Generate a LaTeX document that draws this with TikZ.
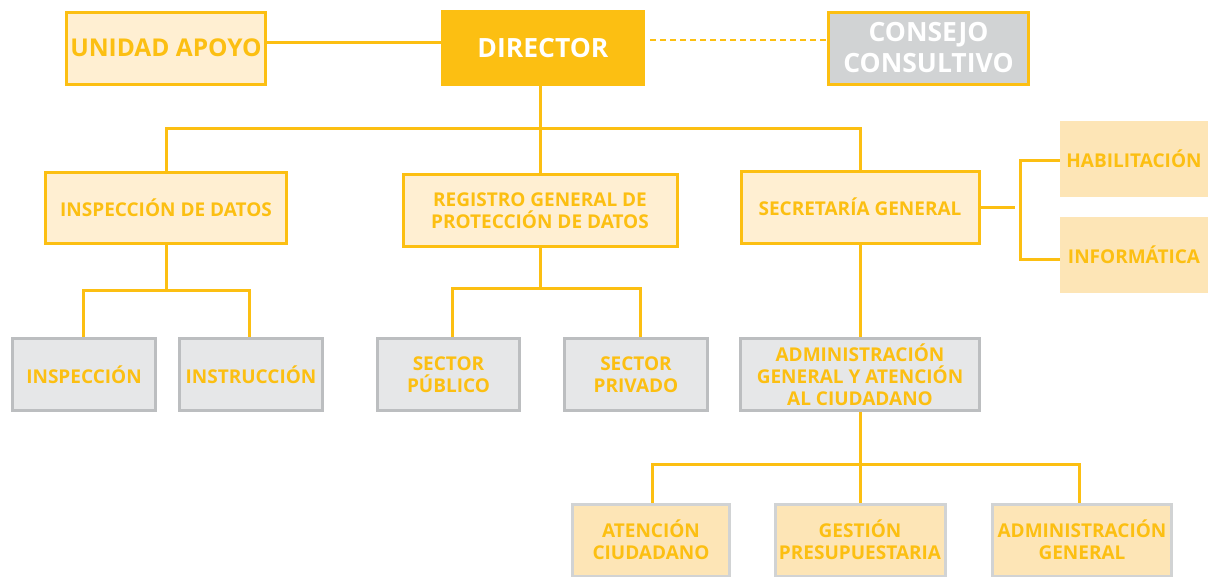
\documentclass[tikz,border=0pt]{standalone}
\usepackage{fontspec}
\setmainfont{Open Sans}[BoldFont={Open Sans Bold}]
\definecolor{yel}{HTML}{FCBF12}
\definecolor{cream}{HTML}{FFEFD2}
\definecolor{peach}{HTML}{FDE5B6}
\definecolor{lgray}{HTML}{E6E7E8}
\definecolor{mgray}{HTML}{BCBEC0}
\definecolor{cgray}{HTML}{D1D3D4}
\tikzset{
  box/.style={rectangle, inner sep=0pt, align=center, font=\bfseries\fontsize{19}{22}\selectfont, text=yel},
  bigtext/.style={font=\bfseries\fontsize{26.5}{31}\selectfont},
  creambox/.style={box, fill=cream, draw=yel, line width=3pt},
  graybox/.style={box, fill=lgray, draw=mgray, line width=3pt},
  peachbox/.style={box, fill=peach},
  peachgbox/.style={box, fill=peach, draw=cgray, line width=3pt},
  conn/.style={draw=yel, line width=3pt},
}
\begin{document}
\begin{tikzpicture}[x=1pt,y=-1pt]
\useasboundingbox (0,0) rectangle (1208,576);
% top row
\node[creambox, bigtext, font=\bfseries\fontsize{24.5}{31}\selectfont, minimum width=199pt, minimum height=72pt] (unidad) at (166,48) {UNIDAD APOYO};
\node[box, bigtext, fill=yel, minimum width=204pt, minimum height=76pt, text=white] (director) at (543,48) {DIRECTOR};
\node[box, bigtext, fill=cgray, draw=yel, line width=3pt, minimum width=200pt, minimum height=72pt, text=white] (consejo) at (928.5,48) {CONSEJO\\CONSULTIVO};
% second row
\node[creambox, minimum width=241pt, minimum height=71pt] (inspd) at (166,208) {INSPECCIÓN DE DATOS};
\node[creambox, minimum width=274pt, minimum height=72pt] (reg) at (540,210.5) {REGISTRO GENERAL DE\\PROTECCIÓN DE DATOS};
\node[creambox, minimum width=238pt, minimum height=72pt] (secr) at (860,207) {SECRETARÍA GENERAL};
\node[peachbox, minimum width=148pt, minimum height=76pt] (habil) at (1134,159) {HABILITACIÓN};
\node[peachbox, minimum width=148pt, minimum height=76pt] (inform) at (1134,255) {INFORMÁTICA};
% third row
\node[graybox, minimum width=143pt, minimum height=72pt] (insp) at (84,374.5) {INSPECCIÓN};
\node[graybox, minimum width=143pt, minimum height=72pt] (instr) at (251,374.5) {INSTRUCCIÓN};
\node[graybox, minimum width=142pt, minimum height=72pt] (pub) at (448.5,374.5) {SECTOR\\PÚBLICO};
\node[graybox, minimum width=143pt, minimum height=72pt] (priv) at (636,374.5) {SECTOR\\PRIVADO};
\node[graybox, minimum width=239pt, minimum height=72pt] (admin) at (860,374.5) {ADMINISTRACIÓN\\GENERAL Y ATENCIÓN\\AL CIUDADANO};
% bottom row
\node[peachgbox, minimum width=157pt, minimum height=72pt] (aten) at (651,540) {ATENCIÓN\\CIUDADANO};
\node[peachgbox, minimum width=170pt, minimum height=72pt] (gest) at (860,540) {GESTIÓN\\PRESUPUESTARIA};
\node[peachgbox, minimum width=179pt, minimum height=72pt] (admg) at (1082,540) {ADMINISTRACIÓN\\GENERAL};
% connectors
\draw[conn] ([yshift=6pt]unidad.east) -- ([yshift=6pt]director.west);
\draw[conn, line width=2.5pt, dash pattern=on 6pt off 4pt] ([yshift=8pt,xshift=5pt]director.east) -- ([yshift=8pt]consejo.west);
\coordinate (b1) at (540,128);
\draw[conn] ([xshift=-3pt]director.south) -- (b1);
\draw[conn] (inspd.north) |- (b1) -| (secr.north);
\draw[conn] (b1) -- (reg.north);
\coordinate (b2) at (166,290);
\draw[conn] (inspd.south) -- (b2);
\draw[conn] ([xshift=-1pt]insp.north) |- (b2) -| ([xshift=-1.5pt]instr.north);
\coordinate (b3) at (540,288);
\draw[conn] (reg.south) -- (b3);
\draw[conn] ([xshift=3.5pt]pub.north) |- (b3) -| ([xshift=4pt]priv.north);
\draw[conn] (secr.south) -- (admin.north);
\coordinate (b4) at (860,464);
\draw[conn] (admin.south) -- (gest.north);
\draw[conn] ([xshift=1pt]aten.north) |- (b4) -| ([xshift=-3pt]admg.north);
\coordinate (bs) at (1020,207);
\coordinate (bse) at (1015,207);
\draw[conn] (secr.east) -- (bse);
\draw[conn] ([yshift=-1pt]habil.west) -| (bs) |- ([yshift=-4pt]inform.west);
\end{tikzpicture}
\end{document}
